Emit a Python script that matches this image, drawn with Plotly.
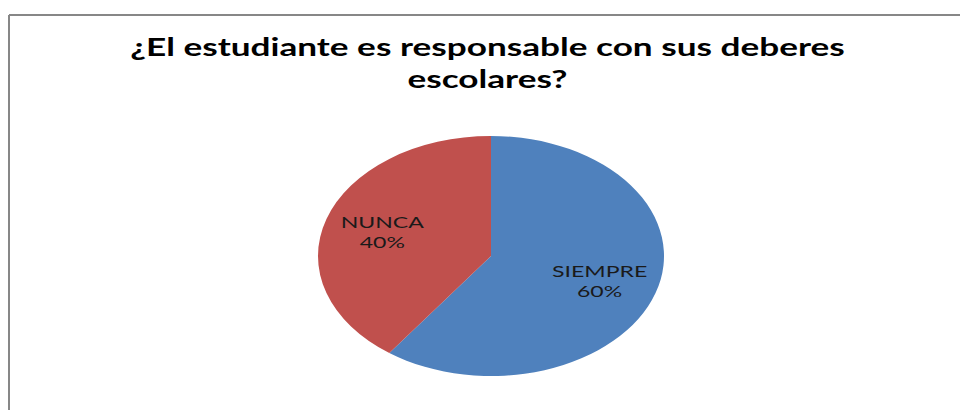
import plotly.graph_objects as go

labels = ["SIEMPRE", "NUNCA"]
values = [60, 40]
colors = ["#4F81BD", "#C0504D"]
title_text = "¿El estudiante es responsable con sus deberes<br>escolares?"

W, H = 960, 410
cx, cy = 491, 256
ry = 120
rx = 173
sx = rx / ry
dom = dict(x=[(cx - ry) / W, (cx + ry) / W], y=[1 - (cy + ry) / H, 1 - (cy - ry) / H])

fig = go.Figure()
# filled slices
fig.add_trace(go.Pie(
    labels=labels, values=values, sort=False,
    direction="clockwise", rotation=0,
    marker=dict(colors=colors, line=dict(width=0)),
    textinfo="none", hoverinfo="label+percent",
    showlegend=False, domain=dom,
))
# transparent overlay carrying the data labels (placed further out like Excel)
fig.add_trace(go.Pie(
    labels=labels, values=values, sort=False,
    direction="clockwise", rotation=0, hole=0.32,
    marker=dict(colors=["rgba(0,0,0,0)"] * len(labels), line=dict(width=0)),
    textposition="inside", insidetextorientation="horizontal",
    texttemplate="%{label}<br>%{percent:.0%}",
    textfont=dict(family="Lato", size=16, color="#1a1a1a"),
    hoverinfo="skip", showlegend=False, domain=dom,
))

frame_x = 9 / W
frame_y = 1 - 15 / H
fig.update_layout(
    width=W, height=H,
    margin=dict(l=0, r=0, t=0, b=0),
    paper_bgcolor="white", plot_bgcolor="white",
    title=dict(
        text=title_text,
        x=487.5 / W, xanchor="center",
        y=1 - 56 / H, yanchor="middle", yref="container",
        font=dict(family="Lato", size=25, color="black", weight="bold"),
    ),
    shapes=[
        dict(type="line", xref="paper", yref="paper",
             x0=frame_x, x1=frame_x, y0=0, y1=frame_y,
             line=dict(color="#878787", width=2), layer="below"),
        dict(type="line", xref="paper", yref="paper",
             x0=frame_x, x1=1, y0=frame_y, y1=frame_y,
             line=dict(color="#878787", width=2), layer="below"),
    ],
)

post = (
    "document.documentElement.style.overflow='hidden';"
    "document.body.style.margin='0';document.body.style.padding='0';document.body.style.overflow='hidden';"
    "var gd=document.getElementById('{plot_id}');"
    "var l=gd.querySelector('.pielayer');"
    f"if(l){{l.setAttribute('transform','translate({cx},0) scale({sx:.4f},1) translate({-cx},0)');}}"
    "var t=gd.querySelector('.gtitle');"
    "if(t){var b=t.getBBox();var c=b.x+b.width/2;var s=715/b.width;"
    "t.setAttribute('transform','translate('+c+',0) scale('+s+',1) translate('+(-c)+',0)');}"
)

fig.write_html("out.html", post_script=post, config={"displayModeBar": False})
